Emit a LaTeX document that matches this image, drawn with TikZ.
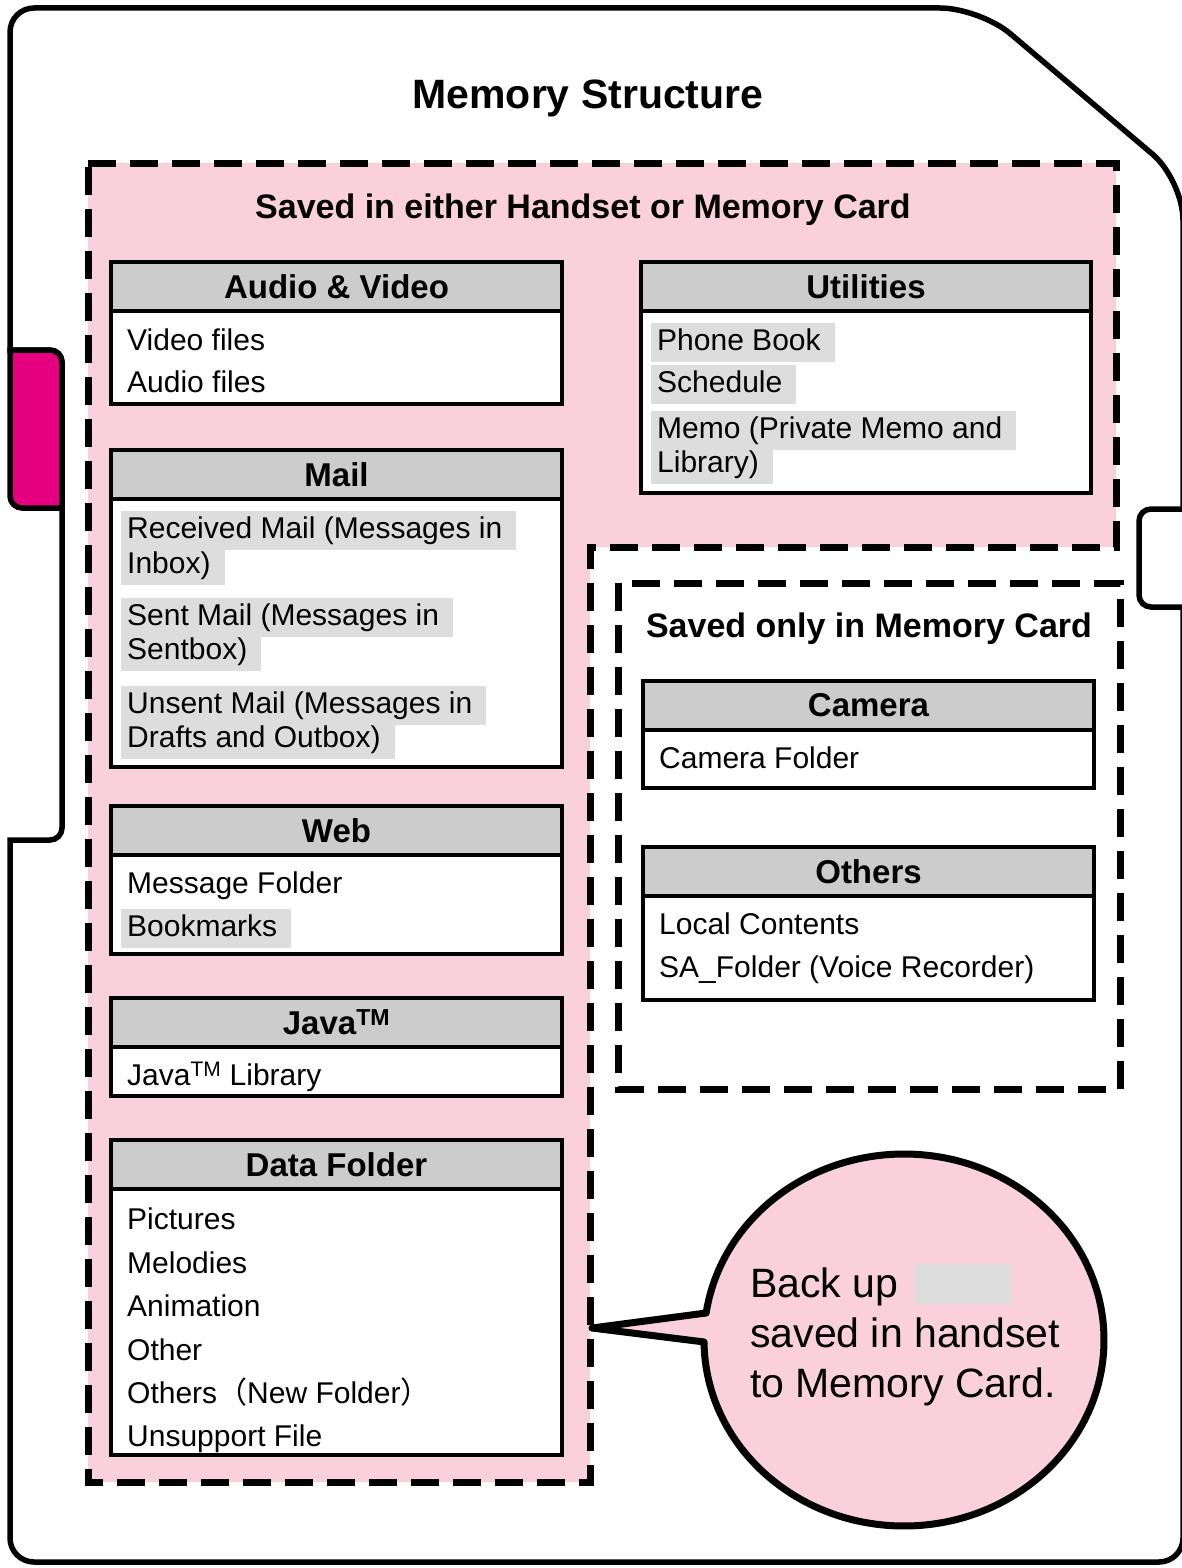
\documentclass[tikz,border=0pt]{standalone}
\usepackage{fontspec}
\setmainfont{Liberation Sans}
\newfontfamily\cjk{Noto Sans CJK JP}
\usetikzlibrary{calc}

\definecolor{zonepink}{RGB}{249,208,220}
\definecolor{tabmagenta}{RGB}{228,0,127}
\definecolor{headgray}{RGB}{204,204,204}
\definecolor{markgray}{RGB}{221,221,221}

\newcommand{\titlefont}{\fontsize{41}{48}\selectfont\bfseries}
\newcommand{\zonefont}{\fontsize{34}{40}\selectfont\bfseries}
\newcommand{\headfont}{\fontsize{33}{38}\selectfont\bfseries}
\newcommand{\itemfont}{\fontsize{30}{34}\selectfont}
\newcommand{\bubblefont}{\fontsize{41}{50}\selectfont}

\tikzset{
  cardline/.style={line width=5.5pt},
  zoneline/.style={line width=7pt, dash pattern=on 28pt off 14pt},
  headbox/.style={draw, line width=3.5pt, fill=headgray, anchor=north west,
    inner sep=0pt, outer sep=0pt, minimum height=49pt, font=\headfont},
  bodybox/.style={draw, line width=3.5pt, fill=white, anchor=north west,
    inner sep=0pt, outer sep=0pt},
  entry/.style={anchor=west, inner xsep=6pt, inner ysep=2pt,
    text height=26pt, text depth=9pt, font=\itemfont},
  marked/.style={entry, fill=markgray, execute at end node={\hspace{8pt}}},
}

\begin{document}
\begin{tikzpicture}[x=1pt, y=-1pt]
				\useasboundingbox (0,0) rectangle (1182,1568);
				\fill[white] (0,0) rectangle (1182,1568);
				% Card outline
				\draw[cardline] (500,8)
					[rounded corners=40pt] -- (980,8) -- (1183,180)
					[sharp corners] -- (1183,509)
					[rounded corners=12pt] -- (1139,509) -- (1139,607)
					[sharp corners] -- (1183,607)
					[rounded corners=24pt] -- (1183,1562) -- (10,1562)
					[sharp corners] -- (10,840)
					[rounded corners=12pt] -- (62,840) -- (62,350)
					[sharp corners] -- (10,350)
					[rounded corners=24pt] -- (10,8) -- cycle;
				% Tab
				\filldraw[cardline, fill=tabmagenta] (10,350) -- (10,496)
					arc[start angle=180, end angle=270, radius=12pt] -- (62,508) -- (62,362)
					arc[start angle=0, end angle=90, radius=12pt] -- cycle;
				% Title
				\node[font=\titlefont] (title) at (588,98) {Memory Structure};
				% Handset or card zone
				\fill[zonepink] (88,163) -- (1116,163) -- (1116,547) -- (590,547) -- (590,1482) -- (88,1482) -- cycle;
				\draw[zoneline] (88,163) -- (1116,163) -- (1116,547) -- (590,547) -- (590,1482) -- (88,1482) -- cycle;
				\node[font=\zonefont] (eithertitle) at (583,210) {Saved in either Handset or Memory Card};
				% Card only zone
				\draw[zoneline] (618,583) rectangle (1120,1089);
				\node[font=\zonefont] (onlytitle) at (869,629) {Saved only in Memory Card};
				% Audio & Video
				\node[headbox, minimum width=451pt] (avhead) at (111,262) {Audio \& Video};
				\node[bodybox, minimum width=451pt, minimum height=93pt] (avbody) at (avhead.south west) {};
				\node[entry] (av1) at (121,342) {Video files};
				\node[entry] (av2) at (121,384) {Audio files};
				% Mail
				\node[headbox, minimum width=451pt] (mailhead) at (111,450) {Mail};
				\node[bodybox, minimum width=451pt, minimum height=268pt] (mailbody) at (mailhead.south west) {};
				\node[marked] (mail1a) at (121,530) {Received Mail (Messages in};
				\node[marked] (mail1b) at (121,565) {Inbox)};
				\node[marked] (mail2a) at (121,617) {Sent Mail (Messages in};
				\node[marked] (mail2b) at (121,651) {Sentbox)};
				\node[marked] (mail3a) at (121,705) {Unsent Mail (Messages in};
				\node[marked] (mail3b) at (121,739) {Drafts and Outbox)};
				% Web
				\node[headbox, minimum width=451pt] (webhead) at (111,806) {Web};
				\node[bodybox, minimum width=451pt, minimum height=99pt] (webbody) at (webhead.south west) {};
				\node[entry] (web1) at (121,885) {Message Folder};
				\node[marked] (web2) at (121,928) {Bookmarks};
				% Java
				\node[headbox, minimum width=451pt] (javahead) at (111,998) {Java\textsuperscript{TM}};
				\node[bodybox, minimum width=451pt, minimum height=49pt] (javabody) at (javahead.south west) {};
				\node[entry] (java1) at (121,1077) {Java\textsuperscript{TM} Library};
				% Data Folder
				\node[headbox, minimum width=451pt] (datahead) at (111,1140) {Data Folder};
				\node[bodybox, minimum width=451pt, minimum height=266pt] (databody) at (datahead.south west) {};
				\foreach \item [count=\i] in {Pictures, Melodies, Animation, Other, Others{\cjk（}New Folder{\cjk）}, Unsupport File}
					\node[entry] (data\i) at (121,1178+43.4*\i) {\item};
				% Utilities
				\node[headbox, minimum width=450pt] (utilhead) at (641,262) {Utilities};
				\node[bodybox, minimum width=450pt, minimum height=182pt] (utilbody) at (utilhead.south west) {};
				\node[marked] (util1) at (651,342) {Phone Book};
				\node[marked] (util2) at (651,384) {Schedule};
				\node[marked] (util3a) at (651,430) {Memo (Private Memo and};
				\node[marked] (util3b) at (651,464) {Library)};
				% Camera
				\node[headbox, minimum width=451pt] (camhead) at (643,681) {Camera};
				\node[bodybox, minimum width=451pt, minimum height=58pt] (cambody) at (camhead.south west) {};
				\node[entry] (cam1) at (653,760) {Camera Folder};
				% Others
				\node[headbox, minimum width=451pt] (othhead) at (643,847) {Others};
				\node[bodybox, minimum width=451pt, minimum height=104pt] (othbody) at (othhead.south west) {};
				\node[entry] (oth1) at (653,926) {Local Contents};
				\node[entry] (oth2) at (653,969) {SA\_Folder (Voice Recorder)};
				% Callout
				\coordinate (bubble) at (904,1340);
				\coordinate (tip) at (592,1328);
				\filldraw[cardline, line width=7pt, line join=round, fill=zonepink]
					($(bubble)+(180.6:200pt and 186pt)$)
					arc[start angle=180.6, end angle=531.65, x radius=200pt, y radius=186pt]
					-- (tip) -- cycle;
				\node[anchor=west, align=left, font=\bubblefont, inner sep=0pt] (backup) at (750,1337)
					{Back up\\saved in handset\\to Memory Card.};
				\node[fill=markgray, minimum width=96pt, minimum height=40pt, inner sep=0pt] (blank) at (963,1284) {};
			\end{tikzpicture}
\end{document}
